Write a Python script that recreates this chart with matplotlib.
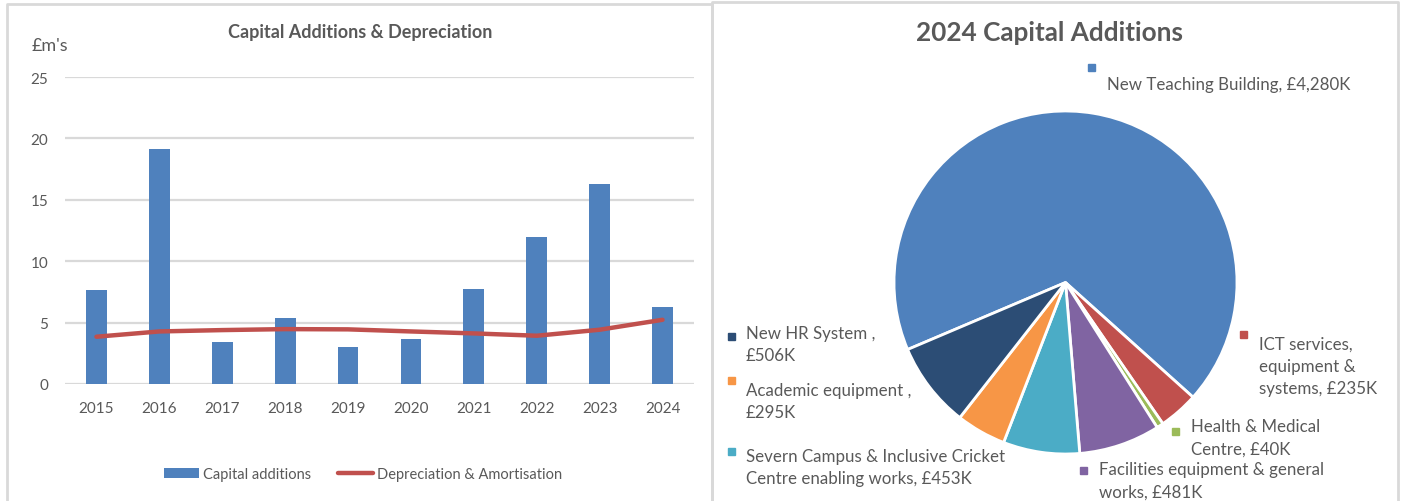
import matplotlib.pyplot as plt
from matplotlib.lines import Line2D
from matplotlib.patches import Rectangle

plt.rcParams['font.family'] = ['Lato', 'DejaVu Sans']

# capital additions and depreciation, £m
years = ['2015', '2016', '2017', '2018', '2019', '2020', '2021', '2022', '2023', '2024']
additions = [7.65, 19.1, 3.4, 5.35, 3.05, 3.7, 7.7, 12.0, 16.25, 6.25]
depreciation = [3.85, 4.28, 4.39, 4.47, 4.45, 4.28, 4.12, 3.93, 4.42, 5.23]

# 2024 capital additions, £K
names = ['New Teaching Building, ', 'ICT services,\nequipment &\nsystems, ',
         'Health & Medical\nCentre, ', 'Facilities equipment & general\nworks, ',
         'Severn Campus & Inclusive Cricket\nCentre enabling works, ',
         'Academic equipment ,\n', 'New HR System ,\n']
amounts = [4280, 235, 40, 481, 453, 295, 506]
colors = ['#4F81BD', '#C0504D', '#9BBB59', '#8064A2', '#4BACC6', '#F79646', '#2C4D75']

W, H = 1402, 502
grey = '#595959'
border = '#D9D9D9'


def fx(px):
    return px / W


def fy(py):
    return 1 - py / H


fig = plt.figure(figsize=(W / 100, H / 100), dpi=100)

# panel frames
for xs, ys in [([7, 7, 712, 712], [H + 5, 5, 5, H + 5]),
               ([712, 712, 1398, 1398], [H + 5, 3, 3, H + 5])]:
    fig.add_artist(Line2D([fx(x) for x in xs], [fy(y) for y in ys],
                          color=border, lw=2, transform=fig.transFigure))

# ---- bar + line chart ----
ax = fig.add_axes([fx(65), fy(385), (694 - 65) / W, (385 - 78) / H])
x = range(len(years))
bars = ax.bar(x, additions, width=0.33, color='#4F81BD', label='Capital additions', zorder=2)
line, = ax.plot(x, depreciation, color='#C0504D', lw=3.2, solid_capstyle='round',
                solid_joinstyle='round', label='Depreciation & Amortisation', zorder=3)
ax.set_xlim(-0.5, len(years) - 0.5)
ax.set_ylim(0, 25)
ax.set_yticks(range(0, 26, 5))
ax.set_xticks(list(x))
ax.set_xticklabels(years)
ax.grid(axis='y', color=border, lw=1.6, zorder=0)
ax.set_axisbelow(True)
for s in ax.spines.values():
    s.set_visible(False)
ax.tick_params(length=0, labelsize=11, labelcolor=grey)
ax.tick_params(axis='y', pad=12)
ax.tick_params(axis='x', pad=12)

fig.text(fx(360), fy(33), 'Capital Additions & Depreciation', ha='center', va='center',
         fontsize=13, fontweight='bold', color=grey)
fig.text(fx(32), fy(46), "£m's", ha='left', va='center', fontsize=13, color=grey)

leg = ax.legend([bars, line], ['Capital additions', 'Depreciation & Amortisation'],
                loc='center', bbox_to_anchor=(fx(363), fy(475)), bbox_transform=fig.transFigure,
                ncol=2, frameon=False, fontsize=10.5, handlelength=2.4, handleheight=0.7,
                columnspacing=1.8, handletextpad=0.3)
for t in leg.get_texts():
    t.set_color(grey)

# ---- pie chart ----
ax2 = fig.add_axes([fx(894), fy(455), 343 / W, 343 / H])
ax2.pie(amounts, colors=colors, startangle=203, counterclock=False,
        wedgeprops=dict(edgecolor='white', linewidth=2))
ax2.set_xlim(-1, 1)
ax2.set_ylim(-1, 1)
ax2.set_aspect('auto')

fig.text(fx(1050), fy(33), '2024 Capital Additions', ha='center', va='center',
         fontsize=18.8, fontweight='bold', color=grey)

# label anchors: marker (x, y), text (x, first line y)
marker_pos = [(1091, 68), (1243, 335), (1175, 432), (1083, 471), (731, 452), (731, 381), (731, 337)]
text_pos = [(1107, 85), (1259, 345), (1191, 427), (1099, 470), (746, 457), (746, 391), (746, 334)]
for name, amt, c, (mx, my), (tx, ty) in zip(names, amounts, colors, marker_pos, text_pos):
    fig.add_artist(Rectangle((fx(mx - 3.5), fy(my + 3.5)), 7 / W, 7 / H, color=c,
                             transform=fig.transFigure))
    fig.text(fx(tx), fy(ty - 8), f'{name}£{amt:,}K', ha='left', va='top',
             fontsize=12.2, color=grey, linespacing=1.48)

fig.savefig('out.png', dpi=100)
